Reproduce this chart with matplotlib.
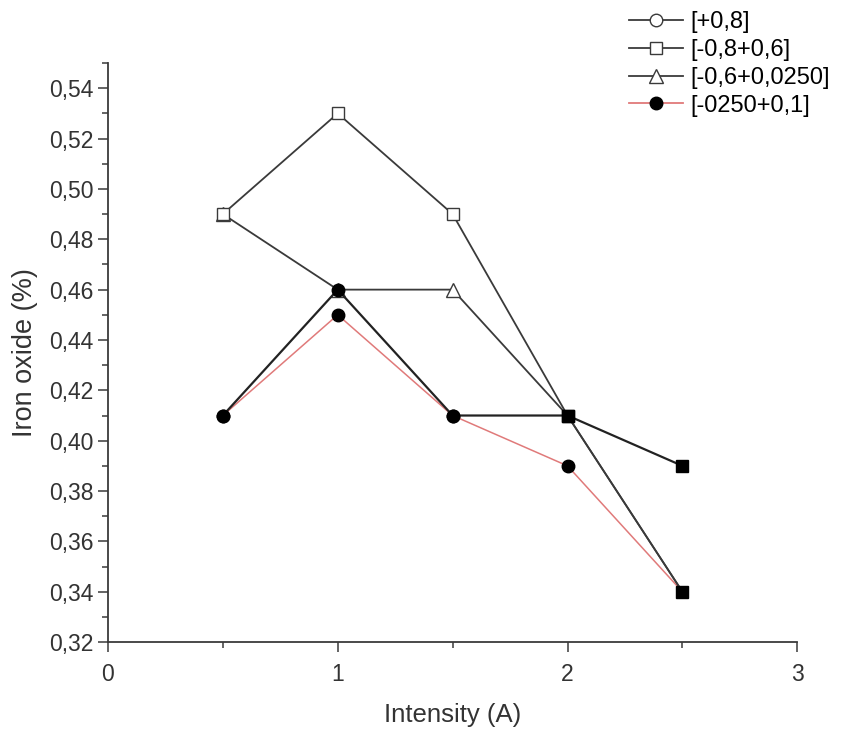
import matplotlib.pyplot as plt
from matplotlib.ticker import MultipleLocator, FuncFormatter

plt.rcParams['font.family'] = ['Liberation Sans', 'DejaVu Sans']

intensity = [0.5, 1.0, 1.5, 2.0, 2.5]
labels = ["[+0,8]", "[-0,8+0,6]", "[-0,6+0,0250]", "[-0250+0,1]"]
s_08 = [0.41, 0.46, 0.41, 0.41, 0.39]
s_08_06 = [0.49, 0.53, 0.49, 0.41, 0.34]
s_06_0250 = [0.49, 0.46, 0.46, 0.41, 0.34]
s_0250_01 = [0.41, 0.45, 0.41, 0.39, 0.34]

grey = "#3a3a3a"
red = "#e07a7a"

fig = plt.figure(figsize=(8.5, 7.33), dpi=100)
ax = fig.add_axes([0.127, 0.124, 0.811, 0.790])

# lines, drawn bottom-up like the original
ax.plot(intensity, s_0250_01, color=red, lw=1.1, marker="o", ms=9,
        mfc="black", mec="black", markevery=[0, 1, 2, 3], zorder=2)
ax.plot(intensity, s_06_0250, color=grey, lw=1.3, marker="^", ms=10,
        mfc="white", mec=grey, markevery=[0, 1, 2], zorder=3)
ax.plot(intensity, s_08_06, color=grey, lw=1.3, marker="s", ms=9,
        mfc="white", mec=grey, markevery=[0, 1, 2], zorder=4)
ax.plot(intensity, s_08, color="#222222", lw=1.6, marker="o", ms=9,
        mfc="black", mec="black", markevery=[0, 1, 2], zorder=5)
# the last two points show up as filled squares in the source
ax.plot(intensity, s_08_06, ls="none", marker="s", ms=9, mfc="black",
        mec="black", markevery=[3, 4], zorder=6)
ax.plot(intensity, s_08, ls="none", marker="s", ms=9, mfc="black",
        mec="black", markevery=[3, 4], zorder=6)

# legend handles
h1, = ax.plot([], [], color=grey, lw=1.3, marker="o", ms=9, mfc="white", mec=grey)
h2, = ax.plot([], [], color=grey, lw=1.3, marker="s", ms=9, mfc="white", mec=grey)
h3, = ax.plot([], [], color=grey, lw=1.3, marker="^", ms=10, mfc="white", mec=grey)
h4, = ax.plot([], [], color=red, lw=1.3, marker="o", ms=9, mfc="black", mec="black")
fig.legend([h1, h2, h3, h4], labels, loc="upper left", bbox_to_anchor=(0.715, 1.014),
           frameon=False, fontsize=17, handlelength=2.3, labelspacing=0.25,
           handletextpad=0.3)

ax.set_xlim(0, 3)
ax.set_ylim(0.32, 0.55)
ax.xaxis.set_major_locator(MultipleLocator(1))
ax.xaxis.set_minor_locator(MultipleLocator(0.5))
ax.yaxis.set_major_locator(MultipleLocator(0.02))
ax.yaxis.set_minor_locator(MultipleLocator(0.01))
ax.yaxis.set_major_formatter(FuncFormatter(lambda v, p: f"{v:.2f}".replace(".", ",") if v < 0.545 else ""))
ax.tick_params(which="major", length=7, width=1.1, labelsize=16.5, color=grey, labelcolor="#333333")
ax.tick_params(axis="x", which="major", pad=8)
ax.tick_params(which="minor", length=4, width=1.1, color=grey)

for side in ["top", "right"]:
    ax.spines[side].set_visible(False)
for side in ["left", "bottom"]:
    ax.spines[side].set_color(grey)
    ax.spines[side].set_linewidth(1.3)

ax.set_xlabel("Intensity (A)", fontsize=18.5, color="#333333", labelpad=12)
ax.set_ylabel("Iron oxide (%)", fontsize=19.5, color="#333333", labelpad=8)

fig.savefig("out.png", dpi=100)
